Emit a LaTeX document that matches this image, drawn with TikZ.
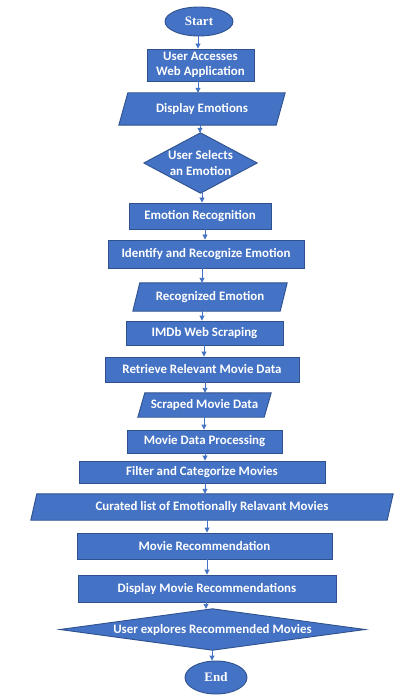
\documentclass[tikz,border=0pt]{standalone}
\usepackage{fontspec}
\setmainfont{Carlito}
\newfontfamily\serifbold{Liberation Serif}
\usetikzlibrary{arrows.meta,backgrounds,shapes.geometric}
\definecolor{fillblue}{HTML}{4472C4}
\definecolor{edgeblue}{HTML}{2F528F}
\tikzset{
  txt/.style={text=white, font=\bfseries\fontsize{12.9}{15.5}\selectfont, inner sep=0pt, align=center},
  procbox/.style={txt, rectangle, fill=fillblue, draw=edgeblue, line width=0.9pt},
  term/.style={txt, ellipse, fill=fillblue, draw=edgeblue, line width=0.9pt, font=\serifbold\bfseries\fontsize{13}{15}\selectfont},
  holder/.style={txt, rectangle},
  shapeline/.style={fill=fillblue, draw=edgeblue, line width=0.9pt, line join=miter},
  arr/.style={draw=fillblue, line width=0.9pt, -{Triangle[length=5pt,width=5pt]}}
}
\begin{document}
\begin{tikzpicture}[x=1pt,y=-1pt]
\useasboundingbox (0,0) rectangle (400,700);
% nodes
\node[term, minimum width=68pt, minimum height=29pt] (start) at (199,21.5) {Start};
\node[procbox, minimum width=107pt, minimum height=32pt] (b1) at (200.5,65) {User Accesses\\Web Application};
\node[holder, minimum width=166pt, minimum height=32pt] (p1) at (202,109) {Display Emotions};
\node[holder, minimum width=113pt, minimum height=60pt] (d1) at (200.5,163) {User Selects\\an Emotion};
\node[procbox, minimum width=142pt, minimum height=26pt] (b2) at (200,216) {Emotion Recognition};
\node[procbox, minimum width=196pt, minimum height=28pt] (b3) at (206,254) {Identify and Recognize Emotion};
\node[holder, minimum width=154pt, minimum height=28pt] (p2) at (210,297) {Recognized Emotion};
\node[procbox, minimum width=157pt, minimum height=24pt] (b4) at (204.5,333) {IMDb Web Scraping};
\node[procbox, minimum width=194pt, minimum height=25pt] (b5) at (202,369.5) {Retrieve Relevant Movie Data};
\node[holder, minimum width=133pt, minimum height=24pt] (p3) at (204.5,405) {Scraped Movie Data};
\node[procbox, minimum width=155pt, minimum height=23pt] (b6) at (204.5,441.5) {Movie Data Processing};
\node[procbox, minimum width=246pt, minimum height=22pt] (b7) at (202,472) {Filter and Categorize Movies};
\node[holder, minimum width=362pt, minimum height=26pt] (p4) at (212,507) {Curated list of Emotionally Relavant Movies};
\node[procbox, minimum width=255pt, minimum height=26pt] (b8) at (204.5,546) {Movie Recommendation};
\node[procbox, minimum width=258pt, minimum height=27pt] (b9) at (207,588.5) {Display Movie Recommendations};
\node[holder, minimum width=305pt, minimum height=41pt] (d2) at (212.5,629.5) {User explores Recommended Movies};
\node[term, minimum width=62pt, minimum height=33pt] (end) at (216,677.5) {End};
% shapes drawn behind text
\begin{scope}[on background layer]
\fill[white] (0,0) rectangle (400,700);
\draw[shapeline] ([xshift=9pt]p1.north west) -- (p1.north east) -- ([xshift=-9pt]p1.south east) -- (p1.south west) -- cycle;
\draw[shapeline] ([xshift=7pt]p2.north west) -- (p2.north east) -- ([xshift=-7pt]p2.south east) -- (p2.south west) -- cycle;
\draw[shapeline] ([xshift=7pt]p3.north west) -- (p3.north east) -- ([xshift=-7pt]p3.south east) -- (p3.south west) -- cycle;
\draw[shapeline] ([xshift=6pt]p4.north west) -- (p4.north east) -- ([xshift=-6pt]p4.south east) -- (p4.south west) -- cycle;
\draw[shapeline] (d1.north) -- (d1.east) -- (d1.south) -- (d1.west) -- cycle;
\draw[shapeline] (d2.north) -- (d2.east) -- (d2.south) -- (d2.west) -- cycle;
\end{scope}
% connectors
\draw[arr] (start.south -| 198,0) -- (b1.north -| 198,0);
\draw[arr] (b1.south -| 198,0) -- (p1.north -| 198,0);
\draw[arr] (p1.south -| 200,0) -- (d1.north -| 200,0);
\draw[arr] (d1.south -| 202,0) -- (b2.north -| 202,0);
\draw[arr] (b2.south -| 205,0) -- (b3.north -| 205,0);
\draw[arr] (b3.south -| 202,0) -- (p2.north -| 202,0);
\draw[arr] (p2.south -| 202,0) -- (b4.north -| 202,0);
\draw[arr] (b4.south -| 204,0) -- (b5.north -| 204,0);
\draw[arr] (b5.south -| 205,0) -- (p3.north -| 205,0);
\draw[arr] (p3.south -| 204,0) -- (b6.north -| 204,0);
\draw[arr] (b6.south -| 205,0) -- (b7.north -| 205,0);
\draw[arr] (b7.south -| 205,0) -- (p4.north -| 205,0);
\draw[arr] (p4.south -| 207,0) -- (b8.north -| 207,0);
\draw[arr] (b8.south -| 207,0) -- (b9.north -| 207,0);
\draw[arr] (b9.south -| 206,0) -- (d2.north -| 206,0);
\draw[arr] (d2.south -| 212,0) -- (end.north -| 212,0);
\end{tikzpicture}
\end{document}
